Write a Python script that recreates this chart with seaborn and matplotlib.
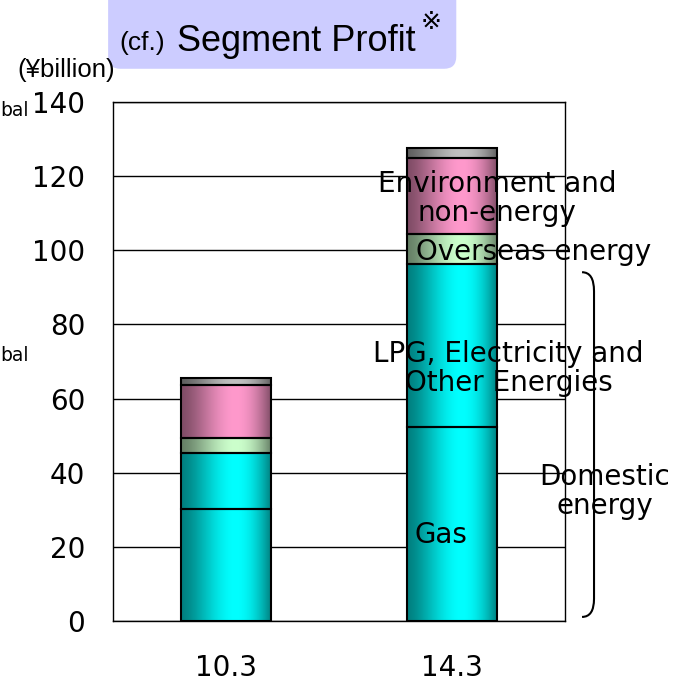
import numpy as np
import pandas as pd
import seaborn as sns
import matplotlib.pyplot as plt
from matplotlib.patches import FancyBboxPatch, PathPatch
from matplotlib.path import Path
from matplotlib.colors import to_rgb

# segment profit, ¥billion
years = ["10.3", "14.3"]
gas = [30.3, 52.4]
lpg = [14.9, 43.9]
overseas = [4.2, 8.0]
environment = [14.2, 20.5]
other = [1.9, 2.8]

layers = [gas, lpg, overseas, environment, other]
colors = ["#00FFFF", "#00FFFF", "#CCFFCC", "#FF99CC", "#C0C0C0"]

sns.set_style("white")
plt.rcParams["font.family"] = ["DejaVu Sans"]
plt.rcParams["text.color"] = "black"
plt.rcParams["xtick.color"] = "black"
plt.rcParams["ytick.color"] = "black"
title_font = ["Liberation Sans", "DejaVu Sans"]

fig = plt.figure(figsize=(6.8, 6.81), dpi=100)
ax = fig.add_axes([0.166, 0.0881, 0.665, 0.762])

bottom = np.zeros(len(years))
for vals, col in zip(layers, colors):
    df = pd.DataFrame({"year": years, "value": vals})
    sns.barplot(data=df, x="year", y="value", color=col, saturation=1,
                bottom=bottom.copy(), width=0.4, edgecolor="black",
                linewidth=1.5, errorbar=None, ax=ax, zorder=2)
    bottom += np.array(vals)


def shaded(col, n=80):
    # cylinder-ish shading: dark edges, bright a bit right of centre
    t = np.linspace(0, 1, n)
    f = 0.5 + 0.5 * np.sin(np.pi * t ** 1.36)
    return np.array(to_rgb(col))[None, None, :] * f[None, :, None]


for p in list(ax.patches):
    x0, y0 = p.get_x(), p.get_y()
    w, h = p.get_width(), p.get_height()
    ax.imshow(shaded(p.get_facecolor()[:3]), extent=(x0, x0 + w, y0, y0 + h),
              aspect="auto", interpolation="bilinear", zorder=1.5)
    p.set_facecolor("none")

ax.set_xlim(-0.5, 1.5)
ax.set_ylim(0, 140)
ax.set_yticks(range(0, 141, 20))
ax.yaxis.grid(True, color="black", lw=1)
ax.set_axisbelow(True)
for s in ax.spines.values():
    s.set_color("black")
    s.set_linewidth(1)
ax.set_xlabel("")
ax.set_ylabel("")
ax.tick_params(axis="y", length=0, labelsize=20, pad=20)
ax.tick_params(axis="x", length=0, labelsize=20, pad=24)

# labels inside/next to the 14.3 bar
ax.text(1.2, 114, "Environment and\nnon-energy", ha="center", va="center",
        fontsize=20, linespacing=1.05, zorder=5)
ax.text(1.36, 99.5, "Overseas energy", ha="center", va="center", fontsize=20, zorder=5)
ax.text(1.25, 68.2, "LPG, Electricity and\nOther Energies", ha="center", va="center",
        fontsize=20, linespacing=1.05, zorder=5)
ax.text(0.95, 23.2, "Gas", ha="center", va="center", fontsize=20, zorder=5)
ax.text(1.677, 35, "Domestic\nenergy", ha="center", va="center", fontsize=20,
        linespacing=1.05, zorder=5, clip_on=False)

# bracket for domestic energy
verts = [(1.575, 94.1), (1.628, 94.1), (1.628, 89.0), (1.628, 6.0),
         (1.628, 1.1), (1.575, 1.1)]
codes = [Path.MOVETO, Path.CURVE3, Path.CURVE3, Path.LINETO, Path.CURVE3, Path.CURVE3]
ax.add_patch(PathPatch(Path(verts, codes), fill=False, edgecolor="black",
                       lw=1.5, clip_on=False, zorder=4))

# title box
fig.add_artist(FancyBboxPatch((0.159, 0.899), 0.512, 0.12,
                              boxstyle="round,pad=0,rounding_size=0.018",
                              transform=fig.transFigure, facecolor="#CCCCFF",
                              edgecolor="none"))
fig.text(119 / 680, 1 - 50 / 681, "(cf.)", fontsize=19, family=title_font,
         va="baseline")
fig.text(177 / 680, 1 - 51 / 681, "Segment Profit", fontsize=26, family=title_font,
         va="baseline")
fig.text(421 / 680, 1 - 22 / 681, "※", fontsize=18,
         family=["DejaVu Sans", "Noto Sans CJK JP"], va="center")

fig.text(0.098, 1 - 70 / 681, "(¥billion)", fontsize=18.5, family=title_font,
         ha="center", va="center")
fig.text(0.0, 1 - 111 / 681, "bal", fontsize=13.5, va="center")
fig.text(0.0, 1 - 355 / 681, "bal", fontsize=13.5, va="center")

fig.savefig("out.png", dpi=100)
